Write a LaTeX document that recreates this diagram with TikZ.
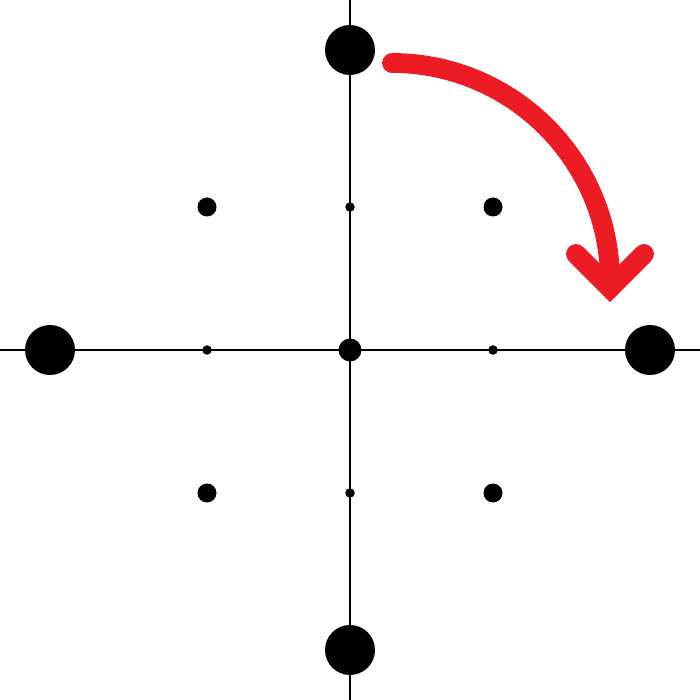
\documentclass[tikz,border=0pt]{standalone}
\definecolor{arrowred}{HTML}{ED1C24}
\begin{document}
\begin{tikzpicture}[x=0.02cm,y=0.02cm,
  dot/.style={circle,fill=black,inner sep=0pt,outer sep=0pt},
  bigdot/.style={dot,minimum size=1cm},
  middot/.style={dot,minimum size=0.38cm},
  cendot/.style={dot,minimum size=0.46cm},
  smalldot/.style={dot,minimum size=0.19cm},
  axis/.style={line width=0.6pt,black},
  redarrow/.style={line width=11.3pt,arrowred,line cap=round}]
\useasboundingbox (0,0) rectangle (700,700);
\coordinate (xl) at (0,350);
\coordinate (xr) at (700,350);
\coordinate (yb) at (350,0);
\coordinate (yt) at (350,700);
\draw[axis] (xl) -- (xr);
\draw[axis] (yb) -- (yt);
\node[bigdot] (top) at (350,650) {};
\node[bigdot] (left) at (50,350) {};
\node[bigdot] (right) at (650,350) {};
\node[bigdot] (bottom) at (350,50) {};
\node[cendot] (center) at (350,350) {};
\node[middot] (tl) at (207,493) {};
\node[middot] (tr) at (493,493) {};
\node[middot] (bl) at (207,207) {};
\node[middot] (br) at (493,207) {};
\node[smalldot] (st) at (350,493) {};
\node[smalldot] (sl) at (207,350) {};
\node[smalldot] (sr) at (493,350) {};
\node[smalldot] (sb) at (350,207) {};
\coordinate (as) at (392,637);
\coordinate (tip) at (610,412);
\coordinate (hl) at (576,446);
\coordinate (hr) at (644,446);
\draw[redarrow] (as) arc[start angle=90,end angle=0,radius=218] -- (tip);
\draw[redarrow,line join=miter] (hl) -- (tip) -- (hr);
\end{tikzpicture}
\end{document}
